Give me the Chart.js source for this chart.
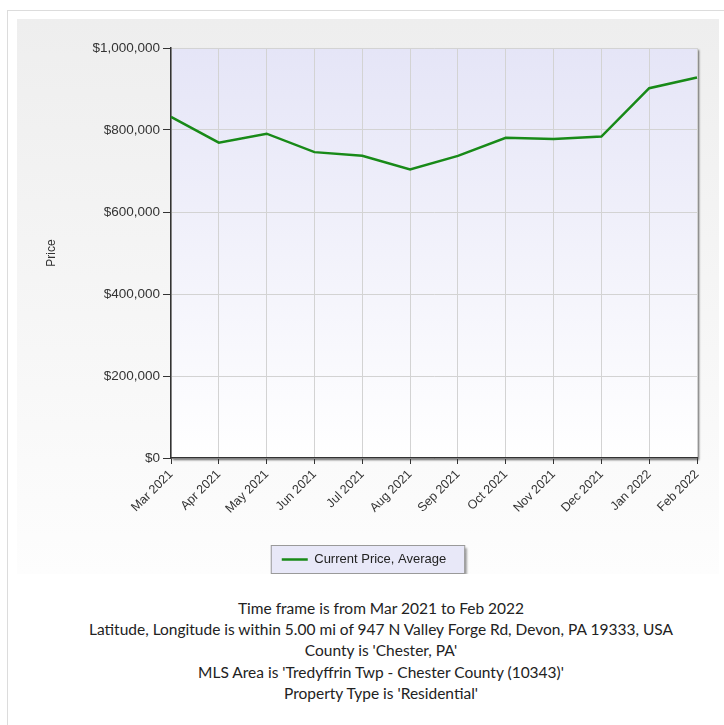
<!DOCTYPE html>
<html>
<head>
<meta charset="utf-8">
<script src="https://cdn.jsdelivr.net/npm/chart.js@4.4.1/dist/chart.umd.min.js"></script>
<style>
  body { margin: 0; background: #fff; }
  #page { position: relative; width: 724px; height: 725px; overflow: hidden; }
  #frame { position: absolute; left: 7px; top: 10px; width: 740px; height: 740px;
           border-left: 1px solid #dcdcdc; border-top: 1px solid #dcdcdc; }
  #panel { position: absolute; left: 17px; top: 19px; width: 702px; height: 555px;
           background: linear-gradient(#eeeeee, #fdfdfd); }
  #priceChart { position: absolute; left: 0; top: 0; }
  #notes { position: absolute; left: 38px; top: 598px; width: 686px; text-align: center;
           font-family: Lato, 'Open Sans', sans-serif; font-size: 15.5px; line-height: 21.2px; color: #222; }
</style>
</head>
<body>
<div id="page">
  <div id="frame"></div>
  <div id="panel"><canvas id="priceChart" width="702" height="555"></canvas></div>
  <div id="notes">
    <div>Time frame is from Mar 2021 to Feb 2022</div>
    <div>Latitude, Longitude is within 5.00 mi of 947 N Valley Forge Rd, Devon, PA 19333, USA</div>
    <div>County is 'Chester, PA'</div>
    <div>MLS Area is 'Tredyffrin Twp - Chester County (10343)'</div>
    <div>Property Type is 'Residential'</div>
  </div>
</div>
<script>
const meses = ['Mar 2021', 'Apr 2021', 'May 2021', 'Jun 2021', 'Jul 2021', 'Aug 2021',
               'Sep 2021', 'Oct 2021', 'Nov 2021', 'Dec 2021', 'Jan 2022', 'Feb 2022'];
const precoMedio = [832000, 769000, 791000, 746000, 737000, 704000,
                    737000, 781000, 778000, 784000, 902000, 928000];
const yTicks = [0, 200000, 400000, 600000, 800000, 1000000];
const serieNome = 'Current Price, Average';

const fonte = "'Liberation Sans', Arial, sans-serif";

// fundo da area do grafico + caixa da legenda
const fundoPlugin = {
    id: 'fundo',
    afterUpdate(chart) {
        // empurra a legenda um pouco para a direita e para baixo
        const lg = chart.legend;
        if (!lg) return;
        const dx = 7, dy = 3;
        lg.left += dx; lg.right += dx;
        lg.top += dy; lg.bottom += dy;
        lg.legendHitBoxes.forEach(h => { h.left += dx; h.top += dy; });
    },
    beforeDraw(chart) {
        const ctx = chart.ctx;
        const a = chart.chartArea;
        ctx.save();
        ctx.shadowColor = 'rgba(0,0,0,0.6)';
        ctx.shadowOffsetX = 2;
        ctx.shadowOffsetY = 2;
        ctx.shadowBlur = 2;
        const grad = ctx.createLinearGradient(0, a.top, 0, a.bottom);
        grad.addColorStop(0, '#e5e5f7');
        grad.addColorStop(1, '#ffffff');
        ctx.fillStyle = grad;
        ctx.fillRect(a.left, a.top, a.right - a.left, a.bottom - a.top);
        ctx.restore();

        const hb = chart.legend && chart.legend.legendHitBoxes && chart.legend.legendHitBoxes[0];
        if (hb) {
            const x = hb.left - 11, y = hb.top - 8;
            const w = hb.width + 29, h = hb.height + 15;
            ctx.save();
            ctx.shadowColor = 'rgba(0,0,0,0.35)';
            ctx.shadowOffsetX = 3;
            ctx.shadowOffsetY = 3;
            ctx.shadowBlur = 2;
            ctx.fillStyle = '#e8e8f8';
            ctx.fillRect(x, y, w, h);
            ctx.restore();
            ctx.save();
            ctx.strokeStyle = '#9a9a9a';
            ctx.lineWidth = 1;
            ctx.strokeRect(x + 0.5, y + 0.5, w, h);
            ctx.restore();
        }
    }
};

new Chart(document.getElementById('priceChart').getContext('2d'), {
    type: 'line',
    data: {
        labels: meses,
        datasets: [{
            label: serieNome,
            data: precoMedio,
            borderColor: '#188a18',
            backgroundColor: '#188a18',
            borderWidth: 2.5,
            tension: 0,
            pointRadius: 0,
            fill: false
        }]
    },
    options: {
        responsive: false,
        animation: false,
        layout: { padding: { top: 29, right: 22, left: 0, bottom: 1 } },
        plugins: {
            tooltip: { enabled: false },
            legend: {
                position: 'bottom',
                labels: {
                    usePointStyle: true,
                    pointStyle: 'line',
                    pointStyleWidth: 26,
                    padding: 8,
                    color: '#222',
                    font: { family: fonte, size: 13 }
                }
            }
        },
        scales: {
            x: {
                offset: false,
                grid: { color: '#d3d3d3', tickColor: '#333', tickLength: 6 },
                border: { color: '#333', width: 1.5 },
                ticks: {
                    autoSkip: false,
                    maxRotation: 45,
                    minRotation: 45,
                    padding: 3,
                    color: '#333',
                    font: { family: fonte, size: 12.5 }
                },
                afterFit(scale) { scale.height = 84; }
            },
            y: {
                min: 0,
                max: 1000000,
                afterBuildTicks(scale) { scale.ticks = yTicks.map(v => ({ value: v })); },
                grid: { color: '#d3d3d3', tickColor: '#333', tickLength: 8 },
                border: { color: '#333', width: 1.5 },
                ticks: {
                    padding: 3,
                    color: '#333',
                    font: { family: fonte, size: 13.5 },
                    callback: v => '$' + Number(v).toLocaleString('en-US')
                },
                title: {
                    display: true,
                    text: 'Price',
                    color: '#333',
                    padding: { top: 27, bottom: 0 },
                    font: { family: fonte, size: 12 }
                },
                afterFit(scale) { scale.width = 154; }
            }
        }
    },
    plugins: [fundoPlugin]
});
</script>
</body>
</html>
